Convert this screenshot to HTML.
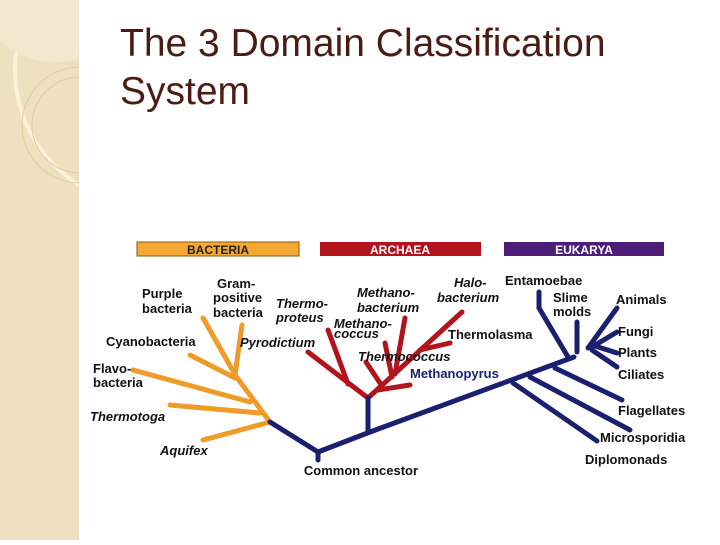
<!DOCTYPE html>
<html><head><style>
body{margin:0;width:720px;height:540px;background:#fff;overflow:hidden;position:relative;font-family:"Liberation Sans",sans-serif}
.side{position:absolute;left:0;top:0;width:79px;height:540px;background:#efe0bf}
.title{position:absolute;left:120px;top:20px;font-size:39px;line-height:48px;color:#4a1c14}
</style></head><body>
<div class="side"><svg width="79" height="540">
<circle cx="150" cy="70" r="135" fill="none" stroke="#fbf1d8" stroke-width="4"/>
<circle cx="55" cy="-20" r="82" fill="#f3e8cf"/>
<circle cx="80" cy="125" r="58" fill="none" stroke="#e0cca5" stroke-width="1"/>
<circle cx="80" cy="125" r="48" fill="none" stroke="#e0cca5" stroke-width="1"/>
</svg></div>
<div class="title">The 3 Domain Classification<br>System</div>
<svg style="position:absolute;left:0;top:0" width="720" height="540" font-family="Liberation Sans" font-weight="bold" font-size="13">
<rect x="137" y="242" width="162" height="14" fill="#f5a833" stroke="#8a5a10"/>
<text x="218" y="254" text-anchor="middle" font-size="12" fill="#222">BACTERIA</text>
<rect x="320" y="242" width="161" height="14" fill="#b3141c"/>
<text x="400" y="254" text-anchor="middle" font-size="12" fill="#fff">ARCHAEA</text>
<rect x="504" y="242" width="160" height="14" fill="#4d1d78"/>
<text x="584" y="254" text-anchor="middle" font-size="12" fill="#fff">EUKARYA</text>
<g stroke="#f09a28" stroke-width="5" fill="none" stroke-linecap="round">
<path d="M270 422 L235 375 L242 325"/><path d="M237 378 L203 318"/><path d="M235 378 L190 355"/>
<path d="M250 402 L133 370"/><path d="M260 413 L170 405"/><path d="M270 422 L203 440"/>
</g>
<g stroke="#b3141c" stroke-width="5" fill="none" stroke-linecap="round">
<path d="M368 398 L308 352"/><path d="M348 384 L328 330"/>
<path d="M368 398 L462 312"/><path d="M395 374 L405 318"/><path d="M392 377 L385 343"/>
<path d="M382 386 L366 362"/><path d="M378 390 L410 385"/><path d="M420 350 L450 343"/>
</g>
<g stroke="#1a1f6e" stroke-width="5" fill="none" stroke-linecap="round">
<path d="M270 422 L318 452 L318 460"/><path d="M318 452 L370 432 L574 357"/><path d="M368 432 L368 398"/>
<path d="M513 383 L597 441"/><path d="M530 377 L630 430"/><path d="M555 368 L622 400"/>
<path d="M568 357 L539 308 L539 292"/><path d="M577 352 L577 322"/>
<path d="M588 348 L617 308"/><path d="M592 347 L617 332"/><path d="M595 346 L617 353"/><path d="M592 350 L617 367"/>
</g>
<g fill="#111">
<text x="142" y="298">Purple</text><text x="142" y="313">bacteria</text>
<text x="217" y="288">Gram-</text><text x="213" y="302">positive</text><text x="213" y="317">bacteria</text>
<text x="106" y="346">Cyanobacteria</text>
<text x="93" y="373">Flavo-</text><text x="93" y="387">bacteria</text>
<text x="361" y="475" text-anchor="middle">Common ancestor</text>
<text x="505" y="285">Entamoebae</text>
<text x="553" y="302">Slime</text><text x="553" y="316">molds</text>
<text x="616" y="304">Animals</text><text x="618" y="336">Fungi</text><text x="618" y="357">Plants</text><text x="618" y="379">Ciliates</text>
<text x="618" y="415">Flagellates</text><text x="600" y="442">Microsporidia</text><text x="585" y="464">Diplomonads</text>
<text x="448" y="339">Thermolasma</text><text x="410" y="378" fill="#1a1f6e">Methanopyrus</text>
</g>
<g fill="#111" font-style="italic">
<text x="90" y="421">Thermotoga</text><text x="160" y="455">Aquifex</text>
<text x="276" y="308">Thermo-</text><text x="276" y="322">proteus</text>
<text x="240" y="347">Pyrodictium</text>
<text x="357" y="297">Methano-</text><text x="357" y="312">bacterium</text>
<text x="334" y="328">Methano-</text><text x="334" y="338">coccus</text>
<text x="454" y="287">Halo-</text><text x="437" y="302">bacterium</text>
<text x="358" y="361">Thermococcus</text>
</g>
</svg>
</body></html>
